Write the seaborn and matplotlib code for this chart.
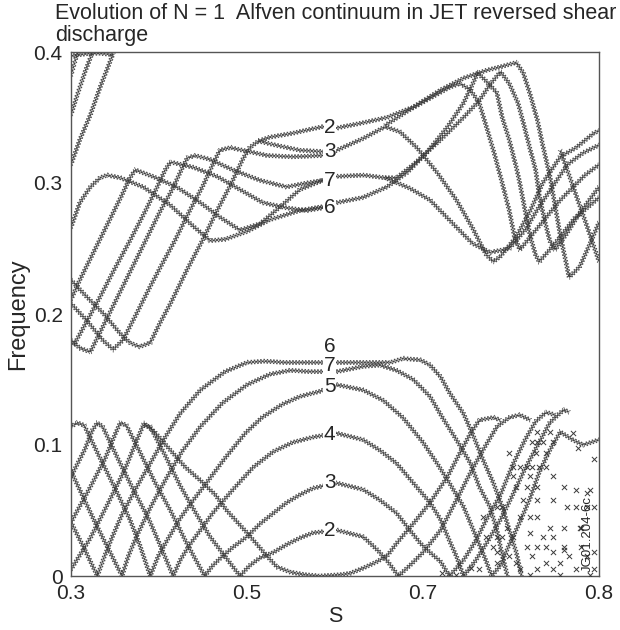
import numpy as np
import pandas as pd
import matplotlib
matplotlib.use("Agg")
import matplotlib.pyplot as plt
import matplotlib.patheffects as pe
import seaborn as sns

# ---------------- data (S, frequency) ----------------
title_text = "Evolution of N = 1  Alfven continuum in JET reversed shear\ndischarge"
x_tick_vals = [0.3, 0.5, 0.7, 0.8]
x_tick_labels = ["0.3", "0.5", "0.7", "0.8"]
y_tick_vals = [0.0, 0.1, 0.2, 0.3, 0.4]
y_tick_labels = ["0", "0.1", "0.2", "0.3", "0.4"]

# upper (TAE-gap) band
top_s = [0.300, 0.310, 0.322, 0.333, 0.347]
top_f = [0.397, 0.398, 0.399, 0.399, 0.398]
steep_a_s = [0.300, 0.310, 0.322, 0.333, 0.344, 0.348]
steep_a_f = [0.314, 0.333, 0.352, 0.373, 0.392, 0.399]
steep_b_s = [0.300, 0.308, 0.316, 0.324]
steep_b_f = [0.352, 0.369, 0.385, 0.399]
steep_c_s = [0.300, 0.305, 0.308]
steep_c_f = [0.382, 0.394, 0.400]

up6_s = [0.300, 0.310, 0.322, 0.333, 0.341, 0.356, 0.382, 0.413, 0.439, 0.458, 0.475, 0.500, 0.526,
         0.560, 0.586, 0.602, 0.632, 0.659, 0.682, 0.702, 0.714, 0.723, 0.728, 0.731, 0.735, 0.742,
         0.745, 0.749, 0.753, 0.755, 0.758, 0.761, 0.764, 0.766, 0.772, 0.778, 0.786, 0.795, 0.800]
up6_f = [0.266, 0.285, 0.297, 0.304, 0.306, 0.304, 0.297, 0.283, 0.267, 0.256, 0.257, 0.263, 0.272,
         0.279, 0.282, 0.285, 0.289, 0.297, 0.308, 0.323, 0.343, 0.361, 0.375, 0.384, 0.379, 0.369,
         0.350, 0.333, 0.312, 0.300, 0.279, 0.259, 0.245, 0.240, 0.249, 0.259, 0.273, 0.283, 0.289]

up7_s = [0.300, 0.310, 0.327, 0.344, 0.358, 0.367, 0.373, 0.393, 0.420, 0.447, 0.469, 0.492, 0.515,
         0.538, 0.560, 0.586, 0.602, 0.632, 0.657, 0.670, 0.689, 0.710, 0.723, 0.732, 0.738, 0.744,
         0.749, 0.754, 0.757, 0.761, 0.764, 0.766, 0.769, 0.772, 0.775, 0.781, 0.789, 0.800]
up7_f = [0.211, 0.226, 0.249, 0.272, 0.291, 0.304, 0.310, 0.305, 0.297, 0.285, 0.274, 0.264, 0.269,
         0.282, 0.295, 0.302, 0.305, 0.306, 0.304, 0.304, 0.314, 0.333, 0.350, 0.363, 0.375, 0.385,
         0.376, 0.361, 0.346, 0.325, 0.310, 0.291, 0.272, 0.256, 0.249, 0.260, 0.277, 0.297]

up3_s = [0.300, 0.318, 0.336, 0.348, 0.359, 0.375, 0.390, 0.405, 0.418, 0.435, 0.450, 0.461, 0.469,
         0.481, 0.495, 0.523, 0.552, 0.586, 0.602, 0.632, 0.657, 0.674, 0.693, 0.708, 0.719, 0.728,
         0.736, 0.740, 0.744, 0.753, 0.761, 0.768, 0.778, 0.787, 0.797, 0.800]
up3_f = [0.208, 0.195, 0.180, 0.173, 0.180, 0.201, 0.221, 0.240, 0.256, 0.279, 0.298, 0.314, 0.325,
         0.327, 0.325, 0.321, 0.320, 0.321, 0.325, 0.334, 0.343, 0.339, 0.327, 0.308, 0.287, 0.266,
         0.245, 0.240, 0.244, 0.259, 0.279, 0.300, 0.320, 0.327, 0.338, 0.340]

up2_s = [0.300, 0.318, 0.336, 0.356, 0.367, 0.378, 0.390, 0.401, 0.413, 0.432, 0.450, 0.466, 0.481,
         0.495, 0.503, 0.513, 0.526, 0.552, 0.572, 0.586, 0.602, 0.632, 0.659, 0.689, 0.710, 0.723,
         0.736, 0.745, 0.753, 0.757, 0.761, 0.765, 0.768, 0.772, 0.775, 0.778, 0.781, 0.783, 0.789,
         0.795, 0.800]
up2_f = [0.226, 0.213, 0.201, 0.185, 0.178, 0.175, 0.178, 0.193, 0.208, 0.234, 0.257, 0.279, 0.298,
         0.318, 0.327, 0.332, 0.335, 0.338, 0.341, 0.343, 0.342, 0.346, 0.350, 0.358, 0.371, 0.380,
         0.386, 0.389, 0.392, 0.384, 0.367, 0.348, 0.329, 0.306, 0.283, 0.260, 0.241, 0.228, 0.236,
         0.254, 0.270]

upb3_s = [0.303, 0.316, 0.333, 0.350, 0.367, 0.384, 0.398, 0.407, 0.413, 0.439, 0.466, 0.492, 0.518,
          0.545, 0.568, 0.586, 0.598]
upb3_f = [0.176, 0.192, 0.213, 0.235, 0.256, 0.278, 0.297, 0.310, 0.316, 0.312, 0.305, 0.295, 0.285,
          0.281, 0.279, 0.281, 0.282]
upb4_s = [0.300, 0.310, 0.322, 0.333, 0.350, 0.367, 0.384, 0.401, 0.415, 0.424, 0.432, 0.441, 0.458,
          0.484, 0.515, 0.545, 0.568, 0.586, 0.598]
upb4_f = [0.180, 0.174, 0.171, 0.186, 0.209, 0.232, 0.255, 0.278, 0.295, 0.308, 0.319, 0.321, 0.318,
          0.310, 0.302, 0.297, 0.300, 0.302, 0.303]
upb6_s = [0.513, 0.532, 0.560, 0.586, 0.598]
upb6_f = [0.332, 0.329, 0.325, 0.324, 0.324]
upx_s = [0.657, 0.685, 0.704, 0.717, 0.728, 0.738, 0.749, 0.758, 0.766, 0.774, 0.782, 0.791, 0.800]
upx_f = [0.304, 0.296, 0.287, 0.269, 0.254, 0.247, 0.250, 0.264, 0.282, 0.298, 0.314, 0.323, 0.329]
upp_s = [0.657, 0.685, 0.707, 0.715, 0.721, 0.727, 0.732, 0.736, 0.740, 0.745, 0.749, 0.752, 0.755,
         0.778, 0.792, 0.800]
upp_f = [0.344, 0.356, 0.367, 0.373, 0.376, 0.371, 0.361, 0.343, 0.325, 0.300, 0.279, 0.259, 0.249,
         0.287, 0.306, 0.314]
upe_s = [0.778, 0.783, 0.789, 0.795, 0.800]
upe_f = [0.325, 0.306, 0.283, 0.260, 0.240]

# lower band
lo6_s = [0.300, 0.315, 0.330, 0.338, 0.347, 0.358, 0.373, 0.390, 0.407, 0.424, 0.447, 0.475, 0.500,
         0.520, 0.543, 0.572, 0.602, 0.632, 0.663, 0.677, 0.697, 0.704, 0.710, 0.715, 0.723, 0.728,
         0.734, 0.740, 0.745, 0.749, 0.753, 0.756]
lo6_f = [0.041, 0.021, 0.000, 0.015, 0.030, 0.047, 0.066, 0.086, 0.106, 0.124, 0.142, 0.156, 0.163,
         0.164, 0.163, 0.163, 0.163, 0.163, 0.163, 0.166, 0.165, 0.161, 0.152, 0.140, 0.124, 0.109,
         0.089, 0.071, 0.053, 0.035, 0.018, 0.000]
lo7_s = [0.300, 0.328, 0.358, 0.365, 0.375, 0.390, 0.407, 0.426, 0.447, 0.472, 0.500, 0.526, 0.549,
         0.572, 0.602, 0.632, 0.651, 0.670, 0.689, 0.704, 0.711, 0.719, 0.727, 0.732, 0.738, 0.742,
         0.745, 0.748]
lo7_f = [0.080, 0.040, 0.000, 0.015, 0.031, 0.052, 0.073, 0.095, 0.114, 0.132, 0.146, 0.154, 0.157,
         0.156, 0.156, 0.160, 0.161, 0.157, 0.150, 0.137, 0.121, 0.104, 0.086, 0.068, 0.053, 0.035,
         0.016, 0.000]
lo5_s = [0.300, 0.307, 0.315, 0.333, 0.350, 0.367, 0.378, 0.390, 0.399, 0.409, 0.424, 0.439, 0.455,
         0.475, 0.498, 0.517, 0.540, 0.560, 0.583, 0.602, 0.632, 0.655, 0.677, 0.700, 0.708, 0.715,
         0.723, 0.728, 0.732, 0.736, 0.739, 0.744, 0.749, 0.755, 0.761, 0.766, 0.772, 0.778, 0.785,
         0.791, 0.800]
lo5_f = [0.114, 0.117, 0.115, 0.090, 0.067, 0.043, 0.024, 0.000, 0.015, 0.027, 0.044, 0.058, 0.072,
         0.090, 0.109, 0.121, 0.131, 0.137, 0.141, 0.146, 0.142, 0.134, 0.121, 0.102, 0.086, 0.071,
         0.053, 0.037, 0.024, 0.011, 0.000, 0.008, 0.024, 0.041, 0.060, 0.079, 0.096, 0.110, 0.104,
         0.100, 0.104]
lo4_s = [0.300, 0.316, 0.324, 0.330, 0.336, 0.353, 0.370, 0.388, 0.401, 0.416, 0.424, 0.435, 0.447,
         0.461, 0.484, 0.507, 0.530, 0.552, 0.575, 0.602, 0.632, 0.651, 0.670, 0.689, 0.704, 0.710,
         0.715, 0.719, 0.723, 0.730, 0.737, 0.744, 0.751, 0.758, 0.766, 0.772, 0.780, 0.783]
lo4_f = [0.076, 0.097, 0.111, 0.117, 0.114, 0.090, 0.067, 0.044, 0.024, 0.000, 0.012, 0.024, 0.035,
         0.048, 0.066, 0.083, 0.095, 0.102, 0.106, 0.109, 0.104, 0.096, 0.086, 0.071, 0.056, 0.043,
         0.027, 0.015, 0.000, 0.012, 0.027, 0.043, 0.062, 0.082, 0.102, 0.117, 0.127, 0.125]
lo3_s = [0.300, 0.322, 0.339, 0.350, 0.356, 0.363, 0.378, 0.395, 0.413, 0.430, 0.442, 0.452, 0.461,
         0.472, 0.484, 0.500, 0.515, 0.530, 0.545, 0.560, 0.575, 0.602, 0.632, 0.651, 0.670, 0.685,
         0.697, 0.704, 0.710, 0.715, 0.723, 0.730, 0.736, 0.744, 0.751, 0.758, 0.764, 0.770, 0.775]
lo3_f = [0.041, 0.068, 0.090, 0.108, 0.117, 0.115, 0.095, 0.072, 0.050, 0.027, 0.012, 0.000, 0.008,
         0.015, 0.022, 0.030, 0.040, 0.048, 0.056, 0.062, 0.067, 0.071, 0.066, 0.058, 0.048, 0.035,
         0.025, 0.018, 0.011, 0.000, 0.012, 0.027, 0.043, 0.062, 0.085, 0.104, 0.118, 0.125, 0.123]
lo2_s = [0.300, 0.322, 0.344, 0.361, 0.375, 0.382, 0.390, 0.407, 0.424, 0.441, 0.458, 0.475, 0.492,
         0.503, 0.515, 0.530, 0.545, 0.560, 0.575, 0.602, 0.632, 0.648, 0.660, 0.672, 0.685, 0.700,
         0.710, 0.719, 0.727, 0.734, 0.742, 0.749, 0.755, 0.761]
lo2_f = [0.005, 0.029, 0.058, 0.081, 0.104, 0.115, 0.114, 0.092, 0.069, 0.049, 0.030, 0.015, 0.000,
         0.008, 0.014, 0.018, 0.024, 0.029, 0.033, 0.035, 0.030, 0.020, 0.011, 0.000, 0.008, 0.018,
         0.035, 0.058, 0.079, 0.096, 0.114, 0.121, 0.123, 0.119]
lo1_s = [0.382, 0.395, 0.413, 0.430, 0.447, 0.464, 0.477, 0.500, 0.523, 0.534, 0.549, 0.566, 0.583,
         0.606, 0.617, 0.632, 0.648, 0.660, 0.670, 0.689, 0.704, 0.714, 0.721, 0.727, 0.732, 0.740,
         0.744]
lo1_f = [0.117, 0.110, 0.096, 0.083, 0.073, 0.062, 0.050, 0.033, 0.015, 0.007, 0.003, 0.001, 0.000,
         0.001, 0.002, 0.006, 0.011, 0.016, 0.025, 0.040, 0.056, 0.076, 0.094, 0.109, 0.119, 0.121,
         0.119]

# isolated points in the lower-right corner
scat_s = [0.765, 0.772, 0.785, 0.762, 0.765, 0.768, 0.774, 0.749, 0.764, 0.770, 0.751, 0.755, 0.759,
          0.762, 0.766, 0.770, 0.751, 0.761, 0.774, 0.753, 0.759, 0.765, 0.780, 0.787, 0.795, 0.757,
          0.765, 0.774, 0.742, 0.745, 0.782, 0.787, 0.793, 0.734, 0.755, 0.761, 0.765, 0.748, 0.772,
          0.780, 0.789, 0.761, 0.736, 0.742, 0.745, 0.751, 0.768, 0.774, 0.740, 0.759, 0.765, 0.770,
          0.780, 0.790, 0.742, 0.774, 0.749, 0.762, 0.783, 0.793, 0.742, 0.753, 0.770, 0.778, 0.732,
          0.755, 0.765, 0.774, 0.787, 0.797, 0.788, 0.797, 0.793, 0.797, 0.790, 0.780, 0.797, 0.711,
          0.719, 0.727, 0.761, 0.778, 0.795]
scat_f = [0.110, 0.110, 0.109, 0.102, 0.102, 0.102, 0.102, 0.094, 0.094, 0.094, 0.083, 0.083, 0.083,
          0.083, 0.083, 0.083, 0.076, 0.076, 0.076, 0.068, 0.068, 0.068, 0.068, 0.066, 0.066, 0.058,
          0.058, 0.058, 0.053, 0.053, 0.053, 0.053, 0.053, 0.045, 0.045, 0.045, 0.045, 0.037, 0.037,
          0.037, 0.037, 0.033, 0.030, 0.030, 0.030, 0.030, 0.030, 0.030, 0.022, 0.022, 0.022, 0.022,
          0.022, 0.022, 0.018, 0.018, 0.015, 0.015, 0.015, 0.015, 0.010, 0.010, 0.010, 0.010, 0.005,
          0.005, 0.005, 0.005, 0.005, 0.005, 0.098, 0.089, 0.063, 0.053, 0.037, 0.020, 0.018, 0.002,
          0.001, 0.006, 0.001, 0.001, 0.001]

upper_labels = ["2", "3", "7", "6"]
upper_label_f = [0.342, 0.324, 0.302, 0.281]
lower_labels = ["6", "7", "5", "4", "3", "2"]
lower_label_f = [0.175, 0.161, 0.145, 0.108, 0.071, 0.035]
label_s = 0.594

curves = [
    (top_s, top_f), (steep_a_s, steep_a_f), (steep_b_s, steep_b_f), (steep_c_s, steep_c_f),
    (up6_s, up6_f), (up7_s, up7_f), (up3_s, up3_f), (up2_s, up2_f),
    (upb3_s, upb3_f), (upb4_s, upb4_f), (upb6_s, upb6_f), (upx_s, upx_f),
    (upp_s, upp_f), (upe_s, upe_f),
    (lo6_s, lo6_f), (lo7_s, lo7_f), (lo5_s, lo5_f), (lo4_s, lo4_f),
    (lo3_s, lo3_f), (lo2_s, lo2_f), (lo1_s, lo1_f),
]

# ---------------- drawing ----------------
sns.set_style("white")
plt.rcParams["font.family"] = ["Liberation Sans", "DejaVu Sans"]

fig = plt.figure(figsize=(6.2, 6.3), dpi=100)
ax = fig.add_axes([71 / 620, 54 / 630, 528 / 620, 524 / 630])


def fwd(x):
    x = np.asarray(x, dtype=float)
    return np.where(x <= 0.7, x, 0.7 + 2.0 * (x - 0.7))


def inv(u):
    u = np.asarray(u, dtype=float)
    return np.where(u <= 0.7, u, 0.7 + (u - 0.7) / 2.0)


ax.set_xscale("function", functions=(fwd, inv))

ink = "#3a3a3a"
xmarks = [pe.TickedStroke(spacing=2.3, angle=a, length=0.9, linewidth=0.55, foreground=ink, alpha=0.9)
          for a in (45, 135, -45, -135)]

for s_vals, f_vals in curves:
    df = pd.DataFrame({"S": s_vals, "F": f_vals})
    sns.lineplot(data=df, x="S", y="F", sort=False, estimator=None, ax=ax,
                 color=ink, linewidth=0.35)
    ax.lines[-1].set_path_effects(xmarks + [pe.Normal()])

sns.scatterplot(x=scat_s, y=scat_f, marker="x", s=14, color=ink, linewidth=0.7, ax=ax, zorder=3)

for lab, fv in zip(upper_labels, upper_label_f):
    ax.text(label_s, fv, lab, fontsize=15, ha="center", va="center", zorder=6,
            bbox=dict(facecolor="white", edgecolor="none", pad=0.3))
for lab, fv in zip(lower_labels, lower_label_f):
    ax.text(label_s, fv, lab, fontsize=15, ha="center", va="center", zorder=6,
            bbox=dict(facecolor="white", edgecolor="none", pad=0.3))

ax.set_xlim(0.3, 0.8)
ax.set_ylim(0.0, 0.4)
ax.set_xticks(x_tick_vals)
ax.set_xticklabels(x_tick_labels)
ax.set_yticks(y_tick_vals)
ax.set_yticklabels(y_tick_labels)
ax.tick_params(direction="inout", length=10, width=1, color="#555555", pad=1, labelsize=15)
for sp in ax.spines.values():
    sp.set_color("#555555")
    sp.set_linewidth(1.0)
ax.set_xlabel("S", fontsize=15.5, labelpad=2)
ax.set_ylabel("Frequency", fontsize=17, labelpad=3)

ax.text(0.979, 0.008, "JG01.204-6c", rotation=90, transform=ax.transAxes,
        ha="center", va="bottom", fontsize=9.5, zorder=6)

fig.text(55 / 620, 1 - 3 / 630, title_text, ha="left", va="top", fontsize=15.5, linespacing=1.05)

fig.savefig("out.png", dpi=100)
